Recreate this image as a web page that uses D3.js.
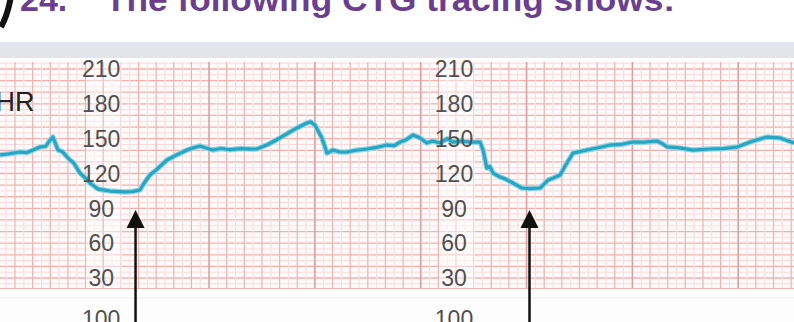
<!DOCTYPE html>
<html lang="en">
<head>
<meta charset="UTF-8">
<title>CTG tracing</title>
<script src="https://d3js.org/d3.v7.min.js"></script>
<style>
    body { margin: 0; background: #fff; }
    svg { display: block; font-family: "Liberation Sans", Arial, sans-serif; }
</style>
</head>
<body>
<svg id="chart" width="794" height="322"></svg>
<script>
// Données (temps en secondes, FHR en bpm)
const bpmTicks = [210, 180, 150, 120, 90, 60, 30];
const labelTimes = [30, 150];
const tocoLabel = "100";
const questionNumber = "24.";
const questionText = "The following CTG tracing shows:";
const axisName = "FHR";

const traceTime = [-5.1, -2, 1.7, 4, 6, 8.5, 10.5, 11.9, 12.9, 14.6, 16, 18.7, 20, 22.1, 24, 25.5, 28.2, 32.3, 37.4, 40, 42.5, 44, 45.9, 48, 51.7, 55, 58.5, 60.5, 62.9, 65, 67.3, 70, 73, 77, 80, 82.3, 86, 90.1, 93, 95.9, 99.3, 100.5, 102, 104.4, 106.1, 108.2, 110.5, 112.9, 116, 119.7, 123, 126.5, 129, 131, 133, 135.4, 137.8, 140.1, 142, 144.6, 147, 149, 151.4, 155, 158.2, 159.2, 160.5, 161.5, 162.6, 165, 167, 169.4, 172.4, 175, 178.6, 181.3, 183, 185.4, 187, 189.8, 194.6, 198, 202.4, 206, 210.2, 214, 218.4, 220, 221.8, 226, 230.6, 236.4, 241, 245.6, 251, 255.8, 260.2, 265];
const traceBpm = [136, 137, 138.5, 138, 140, 142.8, 143.5, 148.8, 151.4, 140.2, 139, 131.6, 129, 120.4, 116, 111.8, 106.6, 104.9, 104.1, 104.5, 105.8, 112, 118.7, 123, 131.6, 136, 140.2, 142, 143.7, 142, 140.2, 141.5, 140.5, 141.5, 141, 141.1, 145, 150.6, 155, 159.2, 163.5, 164.5, 161.8, 150.6, 137.6, 140.2, 138.5, 138.5, 140, 141.1, 142.5, 144.5, 144, 147.1, 149, 153.2, 150.6, 146.3, 148, 146.3, 150, 147, 148, 147, 147.1, 140.2, 124.7, 126, 120.4, 117, 115, 111.8, 107.5, 107, 107.5, 114.4, 116, 118.7, 126, 137.6, 140.2, 142, 144.5, 145, 147.1, 147, 148, 146, 143, 142, 140.2, 141.1, 141.5, 142.8, 148, 151.4, 150.6, 146.3];

const arrowTimes = [41, 175];
const arrowTipBpm = 88.5;

const W = 794, H = 322;
const gridTop = 62, gridBottom = 288;

const svg = d3.select("#chart");

const x = d3.scaleLinear().domain([0, 270]).range([15, 808.8]);
const y = d3.scaleLinear().domain([210, 30]).range([69, 278]);

// titre (coupé en haut)
svg.append("path")
    .attr("d", "M11,-4 C9,8 6,18 1,27")
    .attr("fill", "none")
    .attr("stroke", "#111")
    .attr("stroke-width", 6);

svg.append("text")
    .attr("x", 20).attr("y", 11)
    .attr("fill", "#6b3f8e")
    .attr("font-size", 34).attr("font-weight", "bold")
    .text(questionNumber);

svg.append("text")
    .attr("x", 105).attr("y", 11)
    .attr("fill", "#6b3f8e")
    .attr("font-size", 34).attr("font-weight", "bold")
    .attr("textLength", 570).attr("lengthAdjust", "spacingAndGlyphs")
    .text(questionText);

// bande grise
svg.append("rect")
    .attr("x", 0).attr("y", 42).attr("width", W).attr("height", 16)
    .attr("fill", "#e4e4ed");

// papier
svg.append("rect")
    .attr("x", 0).attr("y", gridTop).attr("width", W).attr("height", gridBottom - gridTop)
    .attr("fill", "#fefafa");

const grid = svg.append("g");

// lignes horizontales toutes les 5 bpm
d3.range(15, 225, 5)
    .filter(b => y(b) >= gridTop && y(b) <= gridBottom)
    .forEach(b => {
        grid.append("line")
            .attr("x1", 0).attr("x2", W)
            .attr("y1", y(b)).attr("y2", y(b))
            .attr("stroke", b % 10 === 0 ? "#f2b0b0" : "#f9dcdc")
            .attr("stroke-width", b % 10 === 0 ? 1.3 : 1);
    });

// lignes verticales toutes les 3 s
d3.range(-6, 273, 3)
    .filter(t => x(t) >= 0 && x(t) <= W)
    .forEach(t => {
        const major = (t - 30) % 36 === 0;
        grid.append("line")
            .attr("x1", x(t)).attr("x2", x(t))
            .attr("y1", gridTop).attr("y2", gridBottom)
            .attr("stroke", major ? "#d9a0a4" : (t % 6 === 0 ? "#f1b2b2" : "#f9dede"))
            .attr("stroke-width", major ? 1.6 : (t % 6 === 0 ? 1.2 : 1));
    });

// colonne claire derrière les graduations
labelTimes.forEach(t => {
    svg.append("rect")
        .attr("x", x(t) - 17).attr("y", gridTop)
        .attr("width", 36).attr("height", gridBottom - gridTop)
        .attr("fill", "#fff").attr("opacity", 0.45);
});

// zone toco
svg.append("rect")
    .attr("x", 0).attr("y", gridBottom).attr("width", W).attr("height", H - gridBottom)
    .attr("fill", "#fdfdfd");
svg.append("line")
    .attr("x1", 0).attr("x2", W).attr("y1", gridBottom + 0.5).attr("y2", gridBottom + 0.5)
    .attr("stroke", "#f0b4b4");
svg.append("line")
    .attr("x1", 0).attr("x2", W).attr("y1", 298).attr("y2", 298)
    .attr("stroke", "#eeeef2");

// tracé FHR
const line = d3.line()
    .x(d => x(d[0]))
    .y(d => y(d[1]));
const tracePts = traceTime.map((t, i) => [t, traceBpm[i]]);

svg.append("path")
    .datum(tracePts)
    .attr("d", line)
    .attr("fill", "none")
    .attr("stroke", "#92d6e5")
    .attr("stroke-width", 5.5)
    .attr("stroke-linejoin", "round");
svg.append("path")
    .datum(tracePts)
    .attr("d", line)
    .attr("fill", "none")
    .attr("stroke", "#26a6c2")
    .attr("stroke-width", 3.2)
    .attr("stroke-linejoin", "round");

// graduations
labelTimes.forEach(t => {
    bpmTicks.forEach(b => {
        svg.append("text")
            .attr("x", x(t) - 2).attr("y", y(b))
            .attr("dy", "0.36em")
            .attr("text-anchor", "middle")
            .attr("fill", "#505050")
            .attr("font-size", 23)
            .text(b);
    });
    svg.append("text")
        .attr("x", x(t) - 2).attr("y", 327)
        .attr("text-anchor", "middle")
        .attr("fill", "#505050")
        .attr("font-size", 23)
        .text(tocoLabel);
});

svg.append("text")
    .attr("x", -21).attr("y", 111)
    .attr("fill", "#222")
    .attr("font-size", 27)
    .text(axisName);

// flèches
arrowTimes.forEach(t => {
    const ax = x(t), tip = y(arrowTipBpm);
    svg.append("line")
        .attr("x1", ax).attr("x2", ax)
        .attr("y1", tip + 14).attr("y2", H)
        .attr("stroke", "#111").attr("stroke-width", 2.5);
    svg.append("path")
        .attr("d", `M${ax},${tip} L${ax - 9},${tip + 18} L${ax + 9},${tip + 18} Z`)
        .attr("fill", "#111");
});
</script>
</body>
</html>
